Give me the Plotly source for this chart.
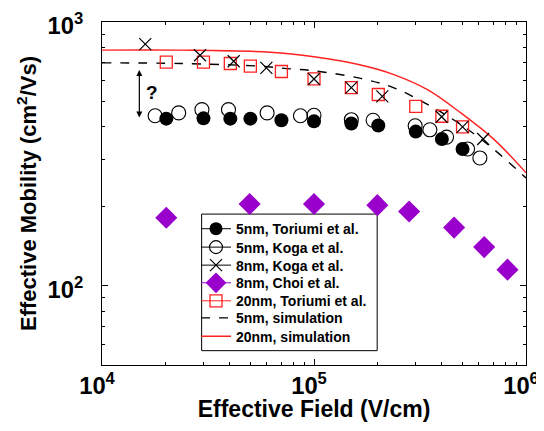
import plotly.graph_objects as go
import math

# ---- data ----
toriumi5_x = [20100, 30100, 40300, 50100, 70200, 100000, 150000, 201000, 302000, 401000, 502000]
toriumi5_y = [430, 431, 430, 430, 424, 420, 412, 405, 384, 360, 330]

koga5_x = [17800, 23000, 29600, 39500, 60100, 86300, 100000, 150000, 190000, 300000, 352000, 422000, 530000, 606000]
koga5_y = [441, 452, 465, 465, 452, 441, 443, 426, 424, 404, 390, 366, 330, 305]

koga8_x = [16000, 29000, 41800, 59600, 100000, 150000, 210000, 400000, 502000, 628000]
koga8_y = [824, 748, 710, 670, 608, 564, 522, 437, 400, 360]

choi8_x = [20100, 49700, 100000, 199000, 281000, 458000, 635000, 818000]
choi8_y = [181, 204, 204, 202, 191, 166, 140, 115]

toriumi20_x = [20100, 30100, 40300, 50100, 70200, 100000, 150000, 201000, 302000, 401000, 502000]
toriumi20_y = [704, 704, 696, 680, 649, 608, 564, 531, 479, 439, 400]

sim5_x = [10000, 23400, 55400, 77400, 100000, 166000, 238000, 343000, 493000, 708000, 1000000]
sim5_y = [700, 696, 680, 664, 653, 611, 563, 487, 408, 328, 256]

sim20_x = [10000, 23400, 62200, 100000, 166000, 238000, 343000, 493000, 708000, 1000000]
sim20_y = [782, 782, 768, 738, 687, 632, 554, 452, 358, 268]

names = ["5nm, Toriumi et al.", "5nm, Koga et al.", "8nm, Koga et al.", "8nm, Choi et al.",
         "20nm, Toriumi et al.", "5nm, simulation", "20nm, simulation"]

PURPLE = "#9a00cc"
RED = "#ff2020"
FONT = "Liberation Sans, Arial, sans-serif"

# the page body has an 8px margin; the figure is sized so the page needs no scrollbars
W, H = 536, 414
ML, MR, MT, MB = 94, 18, 14, 57

fig = go.Figure()

# simulation curves
fig.add_trace(go.Scatter(x=sim5_x, y=sim5_y, mode="lines", line=dict(color="black", width=1.4, dash="dash", shape="spline"),
                         name=names[5], legend="legend6"))
fig.add_trace(go.Scatter(x=sim20_x, y=sim20_y, mode="lines", line=dict(color=RED, width=1.4, shape="spline"),
                         name=names[6], legend="legend7"))

# data points (drawing order: open circles under filled)
fig.add_trace(go.Scatter(x=choi8_x, y=choi8_y, mode="markers", showlegend=False,
                         marker=dict(symbol="diamond", size=17, color=PURPLE, line=dict(width=0))))
fig.add_trace(go.Scatter(x=koga5_x, y=koga5_y, mode="markers", showlegend=False,
                         marker=dict(symbol="circle-open", size=14, color="black", line=dict(width=1.1))))
fig.add_trace(go.Scatter(x=toriumi5_x, y=toriumi5_y, mode="markers", showlegend=False,
                         marker=dict(symbol="circle", size=14, color="black", line=dict(width=0))))
fig.add_trace(go.Scatter(x=toriumi20_x, y=toriumi20_y, mode="markers", showlegend=False,
                         marker=dict(symbol="square-open", size=12, color=RED, line=dict(width=1.3))))
fig.add_trace(go.Scatter(x=koga8_x, y=koga8_y, mode="markers", showlegend=False,
                         marker=dict(symbol="x-thin-open", size=12, color="black", line=dict(width=1.2, color="black"))))

# legend entries (lines+markers look)
leg = [
    (names[0], dict(symbol="circle", size=13, color="black", line=dict(width=0)), "black", "legend"),
    (names[1], dict(symbol="circle-open", size=13, color="black", line=dict(width=1.1)), "black", "legend2"),
    (names[2], dict(symbol="x-thin-open", size=12, color="black", line=dict(width=1.2, color="black")), "black", "legend3"),
    (names[3], dict(symbol="diamond", size=16, color=PURPLE, line=dict(width=0)), PURPLE, "legend4"),
    (names[4], dict(symbol="square-open", size=12, color=RED, line=dict(width=1.3)), RED, "legend5"),
]
for nm, mk, lc, lg in leg:
    fig.add_trace(go.Scatter(x=[None], y=[None], mode="lines+markers", name=nm, legend=lg,
                             marker=mk, line=dict(color=lc, width=1)))

fig.update_xaxes(type="log", range=[4, 6], dtick=1, exponentformat="power", showgrid=False, zeroline=False,
                 showline=True, linecolor="black", linewidth=1, mirror="allticks", automargin=False,
                 ticks="inside", ticklen=6, tickcolor="black", ticklabeloverflow="allow", ticklabelshift=-5,
                 minor=dict(ticks="inside", ticklen=3, dtick="D1", tickcolor="black", showgrid=False),
                 tickfont=dict(family=FONT, size=19, color="black", weight="bold"),
                 title=dict(text="Effective Field (V/cm)", font=dict(family=FONT, size=23, color="black", weight="bold"), standoff=2))
fig.update_yaxes(type="log", range=[math.log10(50), 3], dtick=1, exponentformat="power", showgrid=False, zeroline=False,
                 showline=True, linecolor="black", linewidth=1, mirror="allticks", automargin=False,
                 ticks="inside", ticklen=6, tickcolor="black", ticklabeloverflow="allow", ticklabelshift=4,
                 minor=dict(ticks="inside", ticklen=3, dtick="D1", tickcolor="black", showgrid=False),
                 tickfont=dict(family=FONT, size=19, color="black", weight="bold"), ticklabelstandoff=14,
                 title=dict(text="Effective Mobility (cm<sup>2</sup>/Vs)", font=dict(family=FONT, size=22, color="black", weight="bold"), standoff=4))

# "?" with double arrow
fig.add_annotation(x=math.log10(15000), y=math.log10(434), ax=math.log10(15000), ay=math.log10(666),
                   xref="x", yref="y", axref="x", ayref="y", text="", showarrow=True,
                   arrowhead=2, startarrowhead=2, arrowside="end+start", arrowsize=1, arrowwidth=1.2, arrowcolor="black")
fig.add_annotation(x=math.log10(17300), y=math.log10(540), xref="x", yref="y", text="?", showarrow=False,
                   font=dict(family=FONT, size=19, color="black", weight="bold"))

# legend frame
fig.add_shape(type="rect", xref="paper", yref="paper", x0=0.235, x1=0.649, y0=0.0418, y1=0.44,
              line=dict(color="black", width=1), fillcolor="white", layer="below")

row_y = [0.3962, 0.3425, 0.290, 0.2385, 0.186, 0.1363, 0.0826]
leg_names = ["legend", "legend2", "legend3", "legend4", "legend5", "legend6", "legend7"]
legend_layout = {}
for ln, ry in zip(leg_names, row_y):
    legend_layout[ln] = dict(x=0.2217, y=ry, xanchor="left", yanchor="middle", bgcolor="rgba(0,0,0,0)",
                             borderwidth=0, font=dict(family=FONT, size=14, color="black", weight="bold"),
                             itemwidth=30)

fig.update_layout(
    width=W, height=H,
    margin=dict(l=ML, r=MR, t=MT, b=MB),
    paper_bgcolor="white", plot_bgcolor="white",
    showlegend=True,
    **legend_layout,
)

fig.write_html("out.html")
